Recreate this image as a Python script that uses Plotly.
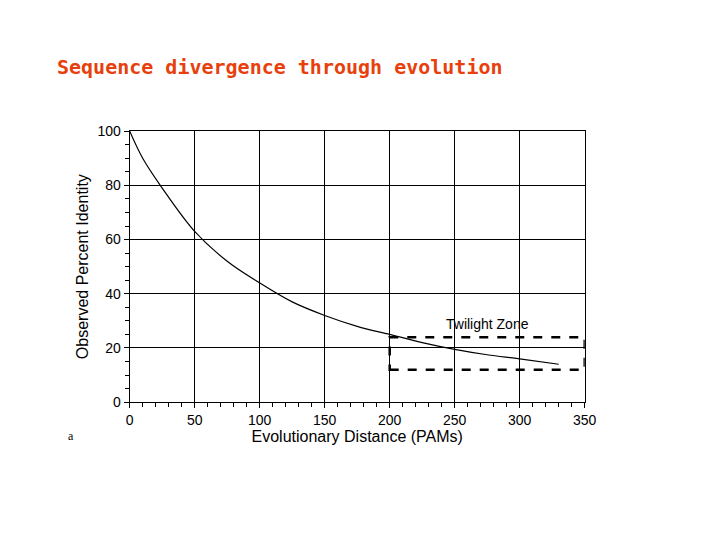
import plotly.graph_objects as go

pam = [0, 10, 25, 50, 75, 100, 125, 150, 175, 200, 225, 250, 275, 300, 330]
identity = [100, 90, 79, 63, 52, 44, 37, 32, 28, 25, 22, 19.5, 17.5, 16, 14]
zone_x = [200, 350]
zone_y = [12, 24]
x_ticks = [0, 50, 100, 150, 200, 250, 300, 350]
y_ticks = [0, 20, 40, 60, 80, 100]

fig = go.Figure()
fig.add_trace(go.Scatter(x=pam, y=identity, mode="lines", line=dict(color="black", width=1.2, shape="spline"), showlegend=False))
fig.add_shape(type="rect", x0=zone_x[0], x1=zone_x[1], y0=zone_y[0], y1=zone_y[1],
              line=dict(color="black", width=2.5, dash="dash"))
fig.add_annotation(x=(zone_x[0]+zone_x[1])/2, y=zone_y[1]+5, text="Twilight Zone", showarrow=False,
                   font=dict(family="Liberation Sans", size=14, color="black"))
fig.add_annotation(xref="paper", yref="paper", x=0.08, y=0.19, text="a", showarrow=False,
                   font=dict(family="Liberation Serif", size=12, color="black"))
fig.add_annotation(xref="paper", yref="paper", x=0.065, y=0.917, xanchor="left", text="<b>Sequence divergence through evolution</b>",
                   showarrow=False, font=dict(family="Comic Sans MS, DejaVu Sans Mono", size=20, color="#e8400c"))
axis_common = dict(showgrid=True, gridcolor="black", gridwidth=1.2, showline=True, linecolor="black", linewidth=1.2,
                   ticks="outside", tickcolor="black", zeroline=False, mirror=True, automargin=False,
                   tickfont=dict(family="Liberation Sans", size=14, color="black"),
                   minor=dict(ticks="outside", ticklen=4, tickcolor="black", showgrid=False))
fig.update_xaxes(range=[0, 350], tickvals=x_ticks, minor_dtick=10,
                 title=dict(text="Evolutionary Distance (PAMs)", font=dict(family="Liberation Sans", size=16, color="black"), standoff=2),
                 **axis_common)
fig.update_yaxes(range=[0, 100], tickvals=y_ticks, minor_dtick=5,
                 title=dict(text="Observed Percent Identity", font=dict(family="Liberation Sans", size=16, color="black"), standoff=4),
                 **axis_common)
fig.update_layout(width=720, height=540, plot_bgcolor="white", paper_bgcolor="white",
                  xaxis_domain=[0.169, 0.801], yaxis_domain=[0.27, 0.772],
                  margin=dict(l=0, r=0, t=0, b=0, autoexpand=False))
fig.write_html("out.html")
